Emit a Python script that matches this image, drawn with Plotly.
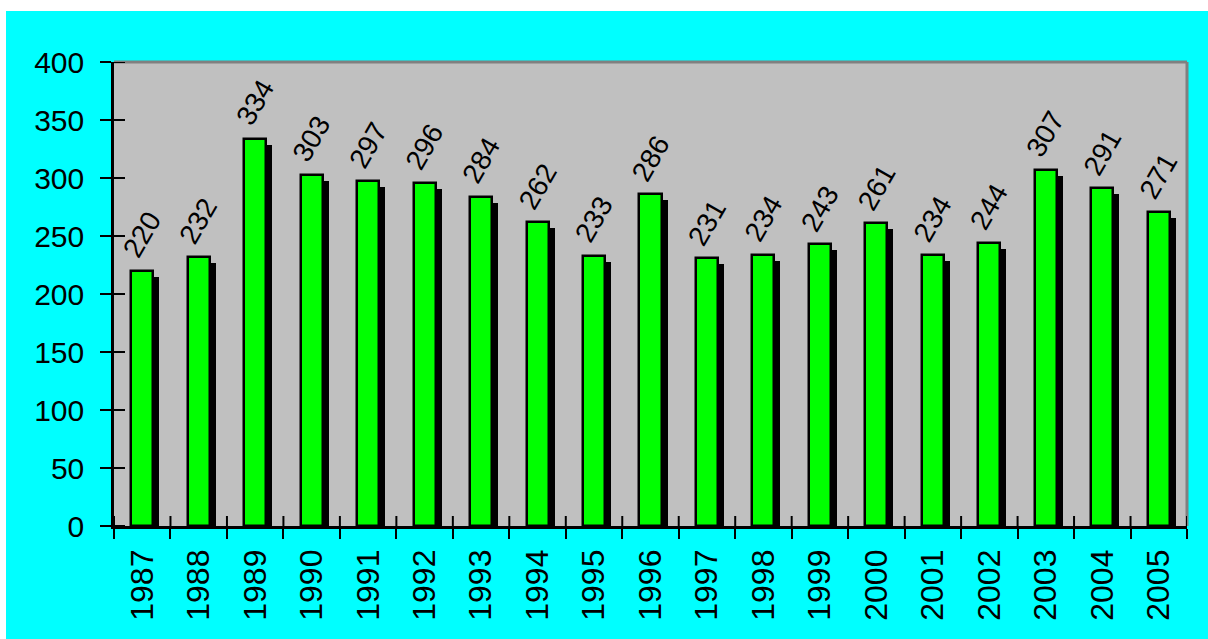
import plotly.graph_objects as go

years = ["1987", "1988", "1989", "1990", "1991", "1992", "1993", "1994", "1995", "1996",
         "1997", "1998", "1999", "2000", "2001", "2002", "2003", "2004", "2005"]
values = [220, 232, 334, 303, 297, 296, 284, 262, 233, 286,
          231, 234, 243, 261, 234, 244, 307, 291, 271]
y_ticks = [0, 50, 100, 150, 200, 250, 300, 350, 400]

W, H = 1208, 639
ML, MR, MT, MB = 114, 21, 62, 113
PW, PH = W - ML - MR, H - MT - MB
YMAX = 400

FONT = "Liberation Sans, Arial, sans-serif"
bar_w = 0.39
shadow_dx = 6 / (PW / len(years))      # 6 px right
shadow_dy = 6 * YMAX / PH               # 6 px down

fig = go.Figure()
# shadow
fig.add_trace(go.Bar(
    x=years, y=[v - shadow_dy for v in values],
    width=bar_w, offset=-bar_w / 2 + shadow_dx,
    marker=dict(color="black", line=dict(width=0)),
    hoverinfo="skip", showlegend=False,
))
# main bars
fig.add_trace(go.Bar(
    x=years, y=values,
    width=bar_w, offset=-bar_w / 2,
    marker=dict(color="#00FF00", line=dict(color="black", width=2.5)),
    showlegend=False,
))

for i, v in enumerate(values):
    fig.add_annotation(
        x=i, y=v, xref="x", yref="y", text=str(v), showarrow=False, textangle=-60,
        xanchor="center", yanchor="middle", yshift=36,
        font=dict(family=FONT, size=28, color="black"),
    )

def px_x(p):
    return (p - ML) / PW

def px_y(p):
    return (H - p - MB) / PH

shapes = [
    # white page edges outside the cyan panel
    dict(type="rect", xref="paper", yref="paper", x0=px_x(-5), x1=px_x(6), y0=px_y(H + 5), y1=px_y(-5),
         fillcolor="white", line=dict(width=0), layer="above"),
    dict(type="rect", xref="paper", yref="paper", x0=px_x(-5), x1=px_x(W + 5), y0=px_y(11), y1=px_y(-5),
         fillcolor="white", line=dict(width=0), layer="above"),
    # grey top/right frame
    dict(type="line", xref="paper", yref="paper", x0=0, x1=1, y0=1, y1=1,
         line=dict(color="#808080", width=3), layer="above"),
    dict(type="line", xref="paper", yref="paper", x0=1, x1=1, y0=0, y1=1,
         line=dict(color="#808080", width=3), layer="above"),
]
# inside halves of the crossing tick marks
for t in y_ticks:
    shapes.append(dict(type="line", xref="paper", yref="y", x0=0, x1=11 / PW, y0=t, y1=t,
                       line=dict(color="black", width=2), layer="above"))
for i in range(len(years) + 1):
    shapes.append(dict(type="line", xref="x", yref="paper", x0=i - 0.5, x1=i - 0.5, y0=0, y1=10 / PH,
                       line=dict(color="black", width=2), layer="above"))

fig.update_layout(
    width=W, height=H,
    margin=dict(l=ML, r=MR, t=MT, b=MB, pad=0),
    paper_bgcolor="#00FFFF",
    plot_bgcolor="#C0C0C0",
    barmode="overlay",
    bargap=0,
    shapes=shapes,
    font=dict(family=FONT, color="black"),
    xaxis=dict(
        type="category", categoryorder="array", categoryarray=years,
        range=[-0.5, len(years) - 0.5],
        tickson="boundaries", ticks="outside", ticklen=10, tickwidth=2, tickcolor="black",
        showline=True, linecolor="black", linewidth=2.5,
        showgrid=False, zeroline=False, tickangle=-90,
        tickfont=dict(family=FONT, size=32, color="black"),
        ticklabelstandoff=8,
    ),
    yaxis=dict(
        range=[0, YMAX], tickvals=y_ticks, ticktext=[str(t) for t in y_ticks],
        ticks="outside", ticklen=11, tickwidth=2, tickcolor="black",
        showline=True, linecolor="black", linewidth=2.5,
        showgrid=False, zeroline=False,
        tickfont=dict(family=FONT, size=30, color="black"),
        ticklabelstandoff=10,
    ),
)

fig.write_html("out.html")
